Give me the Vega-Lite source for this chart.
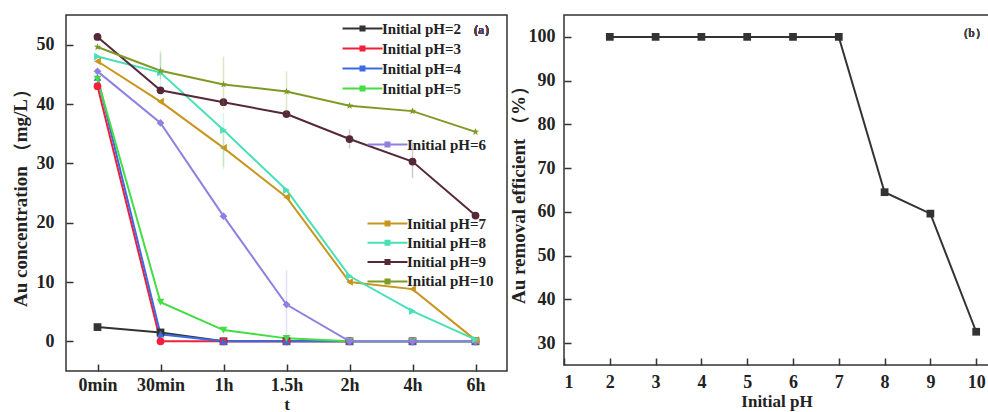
{
  "$schema": "https://vega.github.io/schema/vega-lite/v6.json",
  "background": "white",
  "padding": {"left": 10, "top": 14, "right": 0, "bottom": 0},
  "spacing": 0,
  "config": {
    "view": {"stroke": "#333", "strokeWidth": 1.5},
    "axis": {
      "grid": false,
      "domain": false,
      "offset": -7,
      "tickColor": "#333", "tickWidth": 1.5, "tickSize": 7,
      "labelFont": "Liberation Serif", "labelFontWeight": "bold", "labelFontSize": 18, "labelColor": "#222",
      "titleFont": "Liberation Serif", "titleFontWeight": "bold", "titleFontSize": 19, "titleColor": "#222"
    },
    "axisX": {"titleFontSize": 17},
    "legend": {
      "orient": "none", "padding": 0, "title": null,
      "labelFont": "Liberation Serif", "labelFontWeight": "bold", "labelFontSize": 15, "labelColor": "#222",
      "symbolType": "M-4,0H4M-0.4,-0.4H0.4V0.4H-0.4Z", "symbolSize": 100, "symbolStrokeWidth": 2,
      "symbolOpacity": 1,
      "labelOffset": 12
    }
  },
  "datasets": {
    "kinetics": [
      {"ph": "Initial pH=2", "t": "0min", "c": 2.4},
      {"ph": "Initial pH=2", "t": "30min", "c": 1.5},
      {"ph": "Initial pH=2", "t": "1h", "c": 0},
      {"ph": "Initial pH=2", "t": "1.5h", "c": 0},
      {"ph": "Initial pH=2", "t": "2h", "c": 0},
      {"ph": "Initial pH=2", "t": "4h", "c": 0},
      {"ph": "Initial pH=2", "t": "6h", "c": 0},
      {"ph": "Initial pH=3", "t": "0min", "c": 43.0},
      {"ph": "Initial pH=3", "t": "30min", "c": 0},
      {"ph": "Initial pH=3", "t": "1h", "c": 0},
      {"ph": "Initial pH=3", "t": "1.5h", "c": 0},
      {"ph": "Initial pH=3", "t": "2h", "c": 0},
      {"ph": "Initial pH=3", "t": "4h", "c": 0},
      {"ph": "Initial pH=3", "t": "6h", "c": 0},
      {"ph": "Initial pH=4", "t": "0min", "c": 44.5},
      {"ph": "Initial pH=4", "t": "30min", "c": 1.2},
      {"ph": "Initial pH=4", "t": "1h", "c": 0},
      {"ph": "Initial pH=4", "t": "1.5h", "c": 0},
      {"ph": "Initial pH=4", "t": "2h", "c": 0},
      {"ph": "Initial pH=4", "t": "4h", "c": 0},
      {"ph": "Initial pH=4", "t": "6h", "c": 0},
      {"ph": "Initial pH=5", "t": "0min", "c": 44.2},
      {"ph": "Initial pH=5", "t": "30min", "c": 6.6},
      {"ph": "Initial pH=5", "t": "1h", "c": 1.9},
      {"ph": "Initial pH=5", "t": "1.5h", "c": 0.5},
      {"ph": "Initial pH=5", "t": "2h", "c": 0},
      {"ph": "Initial pH=5", "t": "4h", "c": 0},
      {"ph": "Initial pH=5", "t": "6h", "c": 0},
      {"ph": "Initial pH=6", "t": "0min", "c": 45.5},
      {"ph": "Initial pH=6", "t": "30min", "c": 36.8},
      {"ph": "Initial pH=6", "t": "1h", "c": 21.1},
      {"ph": "Initial pH=6", "t": "1.5h", "c": 6.2, "lo": 0.5, "hi": 12},
      {"ph": "Initial pH=6", "t": "2h", "c": 0},
      {"ph": "Initial pH=6", "t": "4h", "c": 0},
      {"ph": "Initial pH=6", "t": "6h", "c": 0},
      {"ph": "Initial pH=7", "t": "0min", "c": 47.2},
      {"ph": "Initial pH=7", "t": "30min", "c": 40.4},
      {"ph": "Initial pH=7", "t": "1h", "c": 32.6, "lo": 29.5, "hi": 35.5},
      {"ph": "Initial pH=7", "t": "1.5h", "c": 24.3},
      {"ph": "Initial pH=7", "t": "2h", "c": 10.0},
      {"ph": "Initial pH=7", "t": "4h", "c": 8.8},
      {"ph": "Initial pH=7", "t": "6h", "c": 0.2},
      {"ph": "Initial pH=8", "t": "0min", "c": 48.0},
      {"ph": "Initial pH=8", "t": "30min", "c": 45.3, "lo": 43.0, "hi": 48.5},
      {"ph": "Initial pH=8", "t": "1h", "c": 35.6, "lo": 29.0, "hi": 38.5},
      {"ph": "Initial pH=8", "t": "1.5h", "c": 25.5},
      {"ph": "Initial pH=8", "t": "2h", "c": 11.0},
      {"ph": "Initial pH=8", "t": "4h", "c": 5.1},
      {"ph": "Initial pH=8", "t": "6h", "c": 0.3},
      {"ph": "Initial pH=9", "t": "0min", "c": 51.3},
      {"ph": "Initial pH=9", "t": "30min", "c": 42.3},
      {"ph": "Initial pH=9", "t": "1h", "c": 40.3},
      {"ph": "Initial pH=9", "t": "1.5h", "c": 38.3},
      {"ph": "Initial pH=9", "t": "2h", "c": 34.1, "lo": 32.5, "hi": 35.7},
      {"ph": "Initial pH=9", "t": "4h", "c": 30.3, "lo": 27.5, "hi": 33.5},
      {"ph": "Initial pH=9", "t": "6h", "c": 21.2},
      {"ph": "Initial pH=10", "t": "0min", "c": 49.6},
      {"ph": "Initial pH=10", "t": "30min", "c": 45.6, "lo": 44.2, "hi": 48.9},
      {"ph": "Initial pH=10", "t": "1h", "c": 43.3, "lo": 39.0, "hi": 48.0},
      {"ph": "Initial pH=10", "t": "1.5h", "c": 42.1, "lo": 38.5, "hi": 45.5},
      {"ph": "Initial pH=10", "t": "2h", "c": 39.7},
      {"ph": "Initial pH=10", "t": "4h", "c": 38.8},
      {"ph": "Initial pH=10", "t": "6h", "c": 35.3}
    ],
    "efficiency": [
      {"ph": 2, "eff": 100},
      {"ph": 3, "eff": 100},
      {"ph": 4, "eff": 100},
      {"ph": 5, "eff": 100},
      {"ph": 6, "eff": 100},
      {"ph": 7, "eff": 100},
      {"ph": 8, "eff": 64.5},
      {"ph": 9, "eff": 59.6},
      {"ph": 10, "eff": 32.6}
    ]
  },
  "hconcat": [
    {
      "width": 441,
      "height": 356,
      "data": {"name": "kinetics"},
      "encoding": {
        "x": {
          "field": "t", "type": "ordinal", "title": "t",
          "scale": {"type": "point", "padding": 0.5, "domain": ["0min", "30min", "1h", "1.5h", "2h", "4h", "6h"]},
          "axis": {"labelAngle": 0, "labelPadding": 5, "titlePadding": 2}
        },
        "y": {
          "field": "c", "type": "quantitative", "title": "Au concentration （mg/L）",
          "scale": {"domain": [-5, 55], "nice": false, "zero": false},
          "axis": {"values": [0, 10, 20, 30, 40, 50], "labelPadding": 12, "titlePadding": 6}
        }
      },
      "layer": [
        {
          "transform": [{"filter": {"field": "ph", "oneOf": ["Initial pH=2", "Initial pH=3", "Initial pH=4", "Initial pH=5"]}}],
          "encoding": {
            "color": {
              "field": "ph", "type": "nominal",
              "scale": {"domain": ["Initial pH=2", "Initial pH=3", "Initial pH=4", "Initial pH=5"], "range": ["#333333", "#f0203c", "#3a6be0", "#44dd44"]},
              "legend": {"legendX": 289, "legendY": 6, "rowPadding": 4, "symbolOpacity": 1}
            }
          },
          "layer": [
            {"mark": {"type": "line", "strokeWidth": 2}},
            {"mark": {"type": "point", "filled": true, "size": 60, "opacity": 1},
             "encoding": {"shape": {"field": "ph", "type": "nominal", "legend": null,
               "scale": {"domain": ["Initial pH=2", "Initial pH=3", "Initial pH=4", "Initial pH=5", "Initial pH=6", "Initial pH=7", "Initial pH=8", "Initial pH=9", "Initial pH=10"],
                         "range": ["square", "circle", "triangle-up", "triangle-down", "diamond", "triangle-left", "triangle-right", "circle", "M0,-1L0.24,-0.33L0.95,-0.31L0.38,0.12L0.59,0.81L0,0.4L-0.59,0.81L-0.38,0.12L-0.95,-0.31L-0.24,-0.33Z"]}}}},
            {"mark": {"type": "rule", "opacity": 0.25, "strokeWidth": 1.5}, "encoding": {"y": {"field": "lo", "type": "quantitative"}, "y2": {"field": "hi"}}}
          ]
        },
        {
          "transform": [{"filter": {"field": "ph", "oneOf": ["Initial pH=6"]}}],
          "encoding": {
            "color": {
              "field": "ph", "type": "nominal",
              "scale": {"domain": ["Initial pH=6"], "range": ["#9080e0"]},
              "legend": {"legendX": 314, "legendY": 122, "rowPadding": 4, "symbolOpacity": 1}
            }
          },
          "layer": [
            {"mark": {"type": "line", "strokeWidth": 2}},
            {"mark": {"type": "point", "filled": true, "size": 60, "opacity": 1},
             "encoding": {"shape": {"field": "ph", "type": "nominal", "legend": null}}},
            {"mark": {"type": "rule", "opacity": 0.25, "strokeWidth": 1.5}, "encoding": {"y": {"field": "lo", "type": "quantitative"}, "y2": {"field": "hi"}}}
          ]
        },
        {
          "transform": [{"filter": {"field": "ph", "oneOf": ["Initial pH=7", "Initial pH=8", "Initial pH=9", "Initial pH=10"]}}],
          "encoding": {
            "color": {
              "field": "ph", "type": "nominal",
              "scale": {"domain": ["Initial pH=7", "Initial pH=8", "Initial pH=9", "Initial pH=10"], "range": ["#c8961e", "#48e0b8", "#55283a", "#7f9a24"]},
              "legend": {"legendX": 314, "legendY": 201, "rowPadding": 3.3, "symbolOpacity": 1}
            }
          },
          "layer": [
            {"mark": {"type": "line", "strokeWidth": 2}},
            {"mark": {"type": "point", "filled": true, "size": 60, "opacity": 1},
             "encoding": {"shape": {"field": "ph", "type": "nominal", "legend": null}}},
            {"mark": {"type": "rule", "opacity": 0.25, "strokeWidth": 1.5}, "encoding": {"y": {"field": "lo", "type": "quantitative"}, "y2": {"field": "hi"}}}
          ]
        },
        {
          "mark": {"type": "text", "font": "Liberation Serif", "fontSize": 12, "color": "#444", "align": "left", "dx": -9},
          "encoding": {"x": {"datum": "6h"}, "y": {"datum": 52.4}, "text": {"value": "（a）"}}
        }
      ],
      "resolve": {"scale": {"color": "independent"}}
    },
    {
      "width": 425,
      "height": 350,
      "data": {"name": "efficiency"},
      "encoding": {
        "x": {
          "field": "ph", "type": "quantitative", "title": "Initial pH",
          "scale": {"domain": [1, 10.28], "nice": false, "zero": false},
          "axis": {"values": [1, 2, 3, 4, 5, 6, 7, 8, 9, 10], "labelPadding": 8, "titlePadding": 2}
        },
        "y": {
          "field": "eff", "type": "quantitative", "title": "Au removal efficient （%）",
          "scale": {"domain": [25, 105], "nice": false, "zero": false},
          "axis": {"values": [30, 40, 50, 60, 70, 80, 90, 100], "labelPadding": 9, "titlePadding": 0}
        }
      },
      "layer": [
        {"mark": {"type": "line", "color": "#333", "strokeWidth": 2}},
        {"mark": {"type": "point", "shape": "square", "filled": true, "size": 60, "color": "#333", "opacity": 1}},
        {
          "mark": {"type": "text", "font": "Liberation Serif", "fontSize": 12, "color": "#444"},
          "encoding": {"x": {"datum": 9.9}, "y": {"datum": 100.9}, "text": {"value": "（b）"}}
        }
      ]
    }
  ]
}
